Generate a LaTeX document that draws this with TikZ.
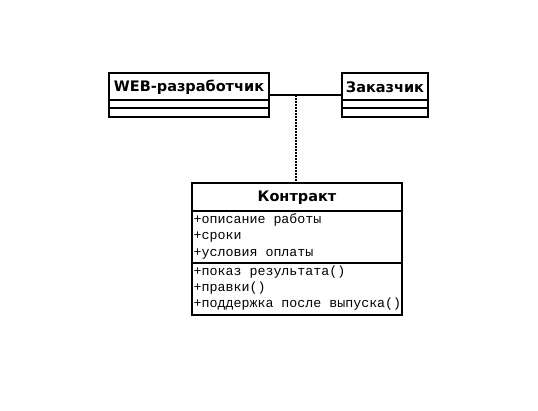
\documentclass[tikz,border=0pt]{standalone}
\usepackage{fontspec}
\setmainfont{DejaVu Sans}
\newfontfamily\attrfont{Liberation Mono}
\usetikzlibrary{positioning}
\tikzset{
  classbox/.style={draw,line width=1.8pt,inner sep=0pt},
  classname/.style={font=\bfseries\fontsize{14.5}{16}\selectfont,inner sep=0pt},
  member/.style={font=\attrfont\fontsize{13.3}{14}\selectfont,anchor=base west,inner sep=0pt},
  sep/.style={line width=1.8pt}
}
\begin{document}
\begin{tikzpicture}[x=1pt,y=-1pt]
\useasboundingbox (0,0) rectangle (538,410);
%class sizes
\pgfmathsetmacro{\rowH}{16.4}   %distance between member rows
%----------------------
%WEB developer class
\node[classbox,minimum width=160pt,minimum height=44pt] (web) at (189,95) {};
\node[classname] (webT) at (189,87.5) {WEB-разработчик};
\draw[sep] (109,100) -- (269,100);
\draw[sep] (109,108.3) -- (269,108.3);
%----------------------
%customer class
\node[classbox,minimum width=86.5pt,minimum height=44pt] (zak) at (385,95) {};
\node[classname] (zakT) at (385,87.5) {Заказчик};
\draw[sep] (341.8,100) -- (428.3,100);
\draw[sep] (341.8,108.3) -- (428.3,108.3);
%----------------------
%contract class
\node[classbox,minimum width=210.5pt,minimum height=132pt] (con) at (297,249.2) {};
\node[classname] (conT) at (297,197.5) {Контракт};
\draw[sep] (191.8,211) -- (402.3,211);
\draw[sep] (191.8,263.3) -- (402.3,263.3);
%attributes
\foreach \txt [count=\i from 0] in {+описание работы,+сроки,+условия оплаты}
  \node[member] (attr\i) at (193.5,{223.5+\i*\rowH}) {\txt};
%operations
\foreach \txt [count=\i from 0] in {+показ результата(),+правки(),+поддержка после выпуска()}
  \node[member] (op\i) at (193.5,{275+\i*\rowH}) {\txt};
%========================
%association
\coordinate (mid) at (296,95);
\draw[line width=1.8pt] (web.east) -- (mid);
\draw[line width=1.2pt] (mid) -- (zak.west);
%association class link
\draw[line width=1.6pt,dash pattern=on 2pt off 1pt] (mid) -- (mid |- con.north);
\end{tikzpicture}
\end{document}
